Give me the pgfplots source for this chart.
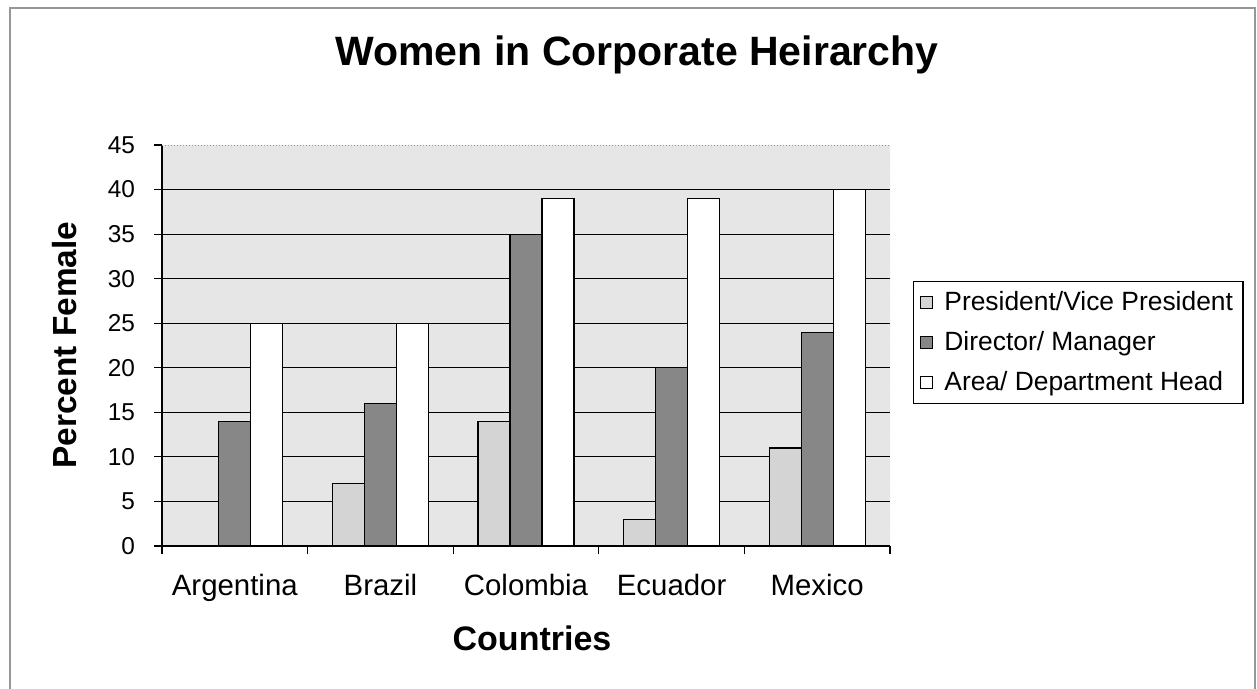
\documentclass[border=0pt]{standalone}
\usepackage{pgfplots}
\pgfplotsset{compat=1.18}
\usepackage{pgfplotstable}
\usepackage{fontspec}
\setmainfont{Liberation Sans}

\definecolor{plotbg}{RGB}{230,230,230}
\definecolor{pvp}{RGB}{212,212,212}
\definecolor{dm}{RGB}{135,135,135}
\definecolor{framegray}{RGB}{150,150,150}

% Percent of women at each level, by country
\pgfplotstableread{
idx pvp dm adh
0   0   14 25
1   7   16 25
2   14  35 39
3   3   20 39
4   11  24 40
}\hierarchy

\begin{document}
\begin{tikzpicture}
\path[use as bounding box] (0pt,0pt) rectangle (628.5pt,-344.5pt);
\draw[framegray, line width=0.6pt] (5pt,-344.5pt) -- (5pt,-4pt) -- (627.5pt,-4pt) -- (627.5pt,-344.5pt);

\node[font=\bfseries\fontsize{20.5}{24}\selectfont] at (318.5pt,-27.5pt) {Women in Corporate Heirarchy};
\node[font=\bfseries\fontsize{16.7}{20}\selectfont, rotate=90] at (32.5pt,-172.5pt) {Percent Female};
\node[font=\bfseries\fontsize{17}{20}\selectfont] at (266pt,-319pt) {Countries};

\begin{axis}[
  at={(81pt,-273pt)}, anchor=south west,
  scale only axis, width=364pt, height=200.5pt,
  axis background/.style={fill=plotbg},
  axis x line*=bottom, axis y line*=left,
  axis line style={black, line width=0.6pt},
  ybar=0pt, bar width=16pt,
  xmin=-0.5, xmax=4.5, ymin=0, ymax=45,
  ytick={0,5,...,45},
  ytick style={black, line width=0.6pt},
  major tick length=4pt, minor tick length=4pt,
  tick align=outside,
  xtick={0,...,4},
  xticklabels={Argentina,Brazil,Colombia,Ecuador,Mexico},
  major x tick style={draw=none},
  minor xtick={-0.5,0.5,...,4.5},
  minor x tick style={black, line width=0.6pt},
  extra y ticks={5,10,...,40},
  extra y tick labels={},
  extra y tick style={grid=major, major tick length=0pt},
  major grid style={black, line width=0.6pt},
  /pgf/number format/assume math mode=true,
  yticklabel style={font=\fontsize{12.2}{14}\selectfont, xshift=-6pt},
  xticklabel style={font=\fontsize{14.7}{17}\selectfont, yshift=-6.5pt},
  legend style={at={(1.0316,0.5075)}, anchor=west, draw=black, line width=0.6pt,
    font=\fontsize{13.2}{15}\selectfont, row sep=5pt, column sep=4pt,
    inner xsep=3pt, inner ysep=3pt},
  legend cell align=left,
  legend image code/.code={\draw[#1, line width=0.4pt] (0pt,-3pt) rectangle (6pt,3pt);},
  every axis plot/.append style={draw=black, line width=0.6pt},
]
\addplot[fill=pvp] table[x=idx, y=pvp] {\hierarchy};
\addplot[fill=dm] table[x=idx, y=dm] {\hierarchy};
\addplot[fill=white] table[x=idx, y=adh] {\hierarchy};
\legend{President/Vice President, Director/ Manager, Area/ Department Head}
\draw[framegray, densely dotted, line width=0.5pt] (rel axis cs:0,1) -- (rel axis cs:1,1) -- (rel axis cs:1,0);
\end{axis}
\end{tikzpicture}
\end{document}
